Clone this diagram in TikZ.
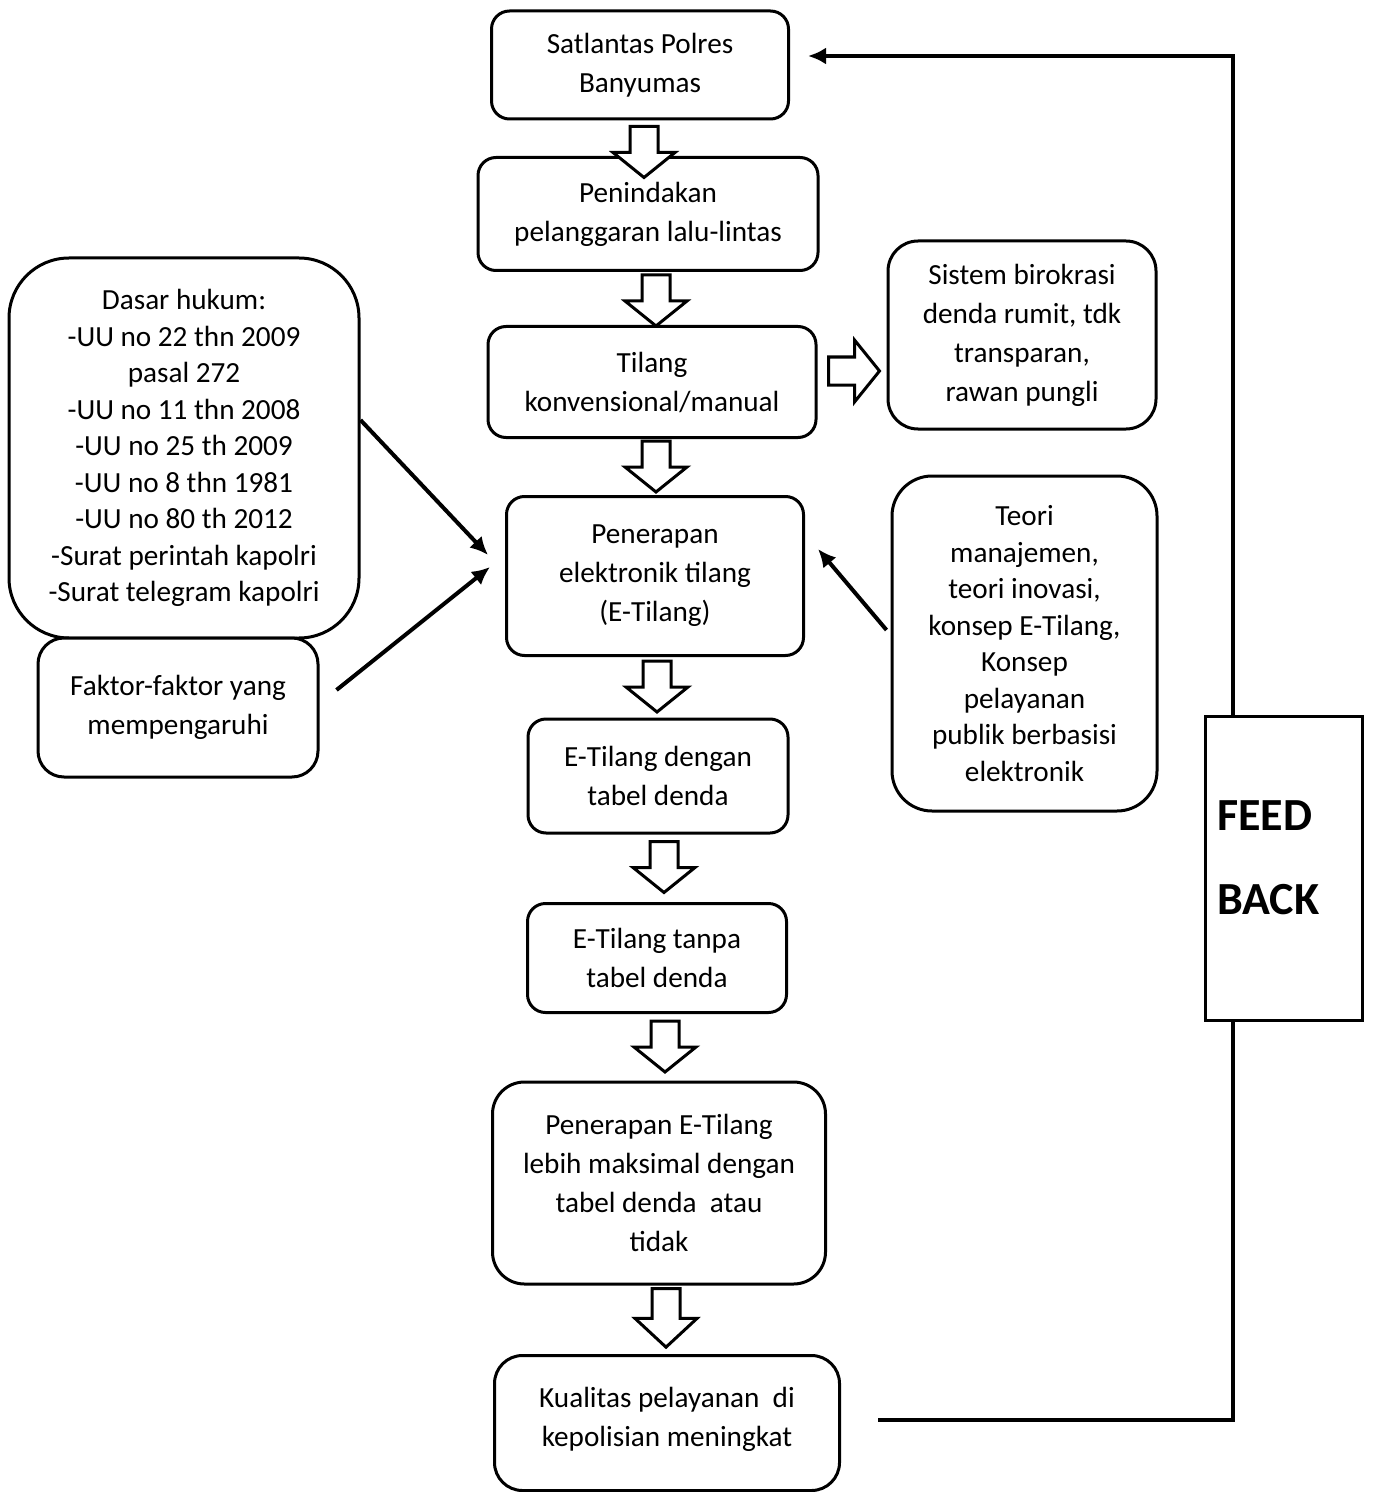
\documentclass[tikz,border=0pt]{standalone}
\usepackage{fontspec}
\setmainfont{Carlito}
\usepackage{tikz}
\usetikzlibrary{positioning,arrows.meta}
\tikzstyle{block} = [rectangle, draw, fill=white, line width=1.5pt, align=center, rounded corners=9pt, inner sep=2pt, font=\fontsize{14.6}{19.5}\selectfont]
\tikzstyle{note} = [block, font=\fontsize{14.6}{18.25}\selectfont]
\tikzstyle{fbbox} = [rectangle, draw, fill=white, line width=1.5pt, align=left, text width=66.5pt, inner xsep=6pt, font=\fontsize{23}{42}\selectfont\bfseries]
\tikzstyle{line} = [draw, line width=2pt, -{Latex[length=9pt,width=8.5pt]}]
\tikzset{bdown/.pic={\draw[fill=white, line width=1.5pt] (-7pt,0) -- (-7pt,-13pt) -- (-15.5pt,-13pt) -- (0,-25.5pt) -- (15.5pt,-13pt) -- (7pt,-13pt) -- (7pt,0) -- cycle;}}

\begin{document}
\begin{tikzpicture}
	\useasboundingbox (0,0) rectangle (686pt,-746pt);
	%% Satlantas block
	\node[block, minimum width=148.5pt, minimum height=54pt] (Sat) at (320pt,-32.5pt) {Satlantas Polres\\Banyumas};
	%% Penindakan
	\node[block, below of=Sat, node distance=74.5pt, xshift=4pt, minimum width=170pt, minimum height=56.5pt] (Pen) {Penindakan\\pelanggaran lalu-lintas};
	%% Tilang manual
	\node[block, below of=Pen, node distance=84pt, xshift=2pt, minimum width=164pt, minimum height=55.5pt] (Til) {Tilang\\konvensional/manual};
	%% E-Tilang
	\node[block, below of=Til, node distance=97pt, xshift=1.5pt, minimum width=148.5pt, minimum height=79.5pt] (Etil) {Penerapan\\elektronik tilang\\(E-Tilang)};
	%% E-Tilang dengan tabel
	\node[block, below of=Etil, node distance=100pt, xshift=1.5pt, minimum width=130pt, minimum height=57pt] (Deng) {E-Tilang dengan\\tabel denda};
	%% E-Tilang tanpa tabel
	\node[block, below of=Deng, node distance=91pt, xshift=-0.5pt, minimum width=129.5pt, minimum height=54.5pt] (Tanpa) {E-Tilang tanpa\\tabel denda};
	%% maksimal
	\node[block, below of=Tanpa, node distance=112.5pt, xshift=1pt, rounded corners=16pt, minimum width=166.5pt, minimum height=101pt] (Maks) {Penerapan E-Tilang\\lebih maksimal dengan\\tabel denda\ \ atau\\tidak};
	%% kualitas
	\node[block, below of=Maks, node distance=120pt, xshift=4pt, rounded corners=14pt, minimum width=172.5pt, minimum height=67.5pt] (Kual) {Kualitas pelayanan\ \ di\\kepolisian meningkat\\[-13.5pt]};
	%% birokrasi
	\node[block, right of=Til, node distance=185pt, yshift=23.5pt, rounded corners=15pt, minimum width=134pt, minimum height=94pt] (Biro) {Sistem birokrasi\\denda rumit, tdk\\transparan,\\rawan pungli};
	%% teori
	\node[note, right of=Etil, node distance=184.75pt, yshift=-33.75pt, rounded corners=20pt, minimum width=132.5pt, minimum height=167.5pt] (Teori) {Teori\\manajemen,\\teori inovasi,\\konsep E-Tilang,\\Konsep\\pelayanan\\publik berbasisi\\elektronik};
	%% dasar hukum
	\node[note, left of=Etil, node distance=235.5pt, yshift=64pt, rounded corners=30pt, minimum width=175pt, minimum height=190pt] (Dasar) {Dasar hukum:\\-UU no 22 thn 2009\\pasal 272\\-UU no 11 thn 2008\\-UU no 25 th 2009\\-UU no 8 thn 1981\\-UU no 80 th 2012\\-Surat perintah kapolri\\-Surat telegram kapolri};
	%% faktor
	\node[block, below of=Dasar, node distance=129.75pt, xshift=-3pt, rounded corners=13pt, minimum width=140pt, minimum height=69.5pt] (Faktor) {Faktor-faktor yang\\mempengaruhi};
	%% block arrows
	\pic at ([xshift=2pt,yshift=-3pt]Sat.south) {bdown};
	\pic at ([xshift=4pt,yshift=-1.5pt]Pen.south) {bdown};
	\pic at ([xshift=2pt,yshift=-1pt]Til.south) {bdown};
	\pic at ([xshift=1pt,yshift=-2pt]Etil.south) {bdown};
	\pic at ([xshift=3pt,yshift=-3.5pt]Deng.south) {bdown};
	\pic at ([xshift=4pt,yshift=-3.5pt]Tanpa.south) {bdown};
	\pic[yscale=1.15] at ([xshift=3.5pt,yshift=-1.5pt]Maks.south) {bdown};
	\pic[rotate=90] at ([xshift=5.5pt,yshift=5.5pt]Til.east) {bdown};
	%% edges
	\path[line] ([yshift=14pt]Dasar.east) -- ([xshift=-8.5pt,yshift=10.5pt]Etil.west);
	\path[line] ([xshift=8.5pt,yshift=8.75pt]Faktor.east) -- ([xshift=-7.5pt,yshift=4.5pt]Etil.west);
	\path[line] ([xshift=-2pt,yshift=6.75pt]Teori.west) -- ([xshift=6.5pt,yshift=13.5pt]Etil.east);
	%% feedback
	\coordinate (FbTop) at (616.5pt,-28pt);
	\path[line] ([xshift=18.5pt,yshift=1.75pt]Kual.east) -| (FbTop) -- ([xshift=9pt,yshift=4.5pt]Sat.east);
	\node[fbbox, minimum height=152pt] (Feed) at (641.75pt,-434pt) {FEED\\BACK\\[-32pt]\mbox{}};
\end{tikzpicture}
\end{document}
